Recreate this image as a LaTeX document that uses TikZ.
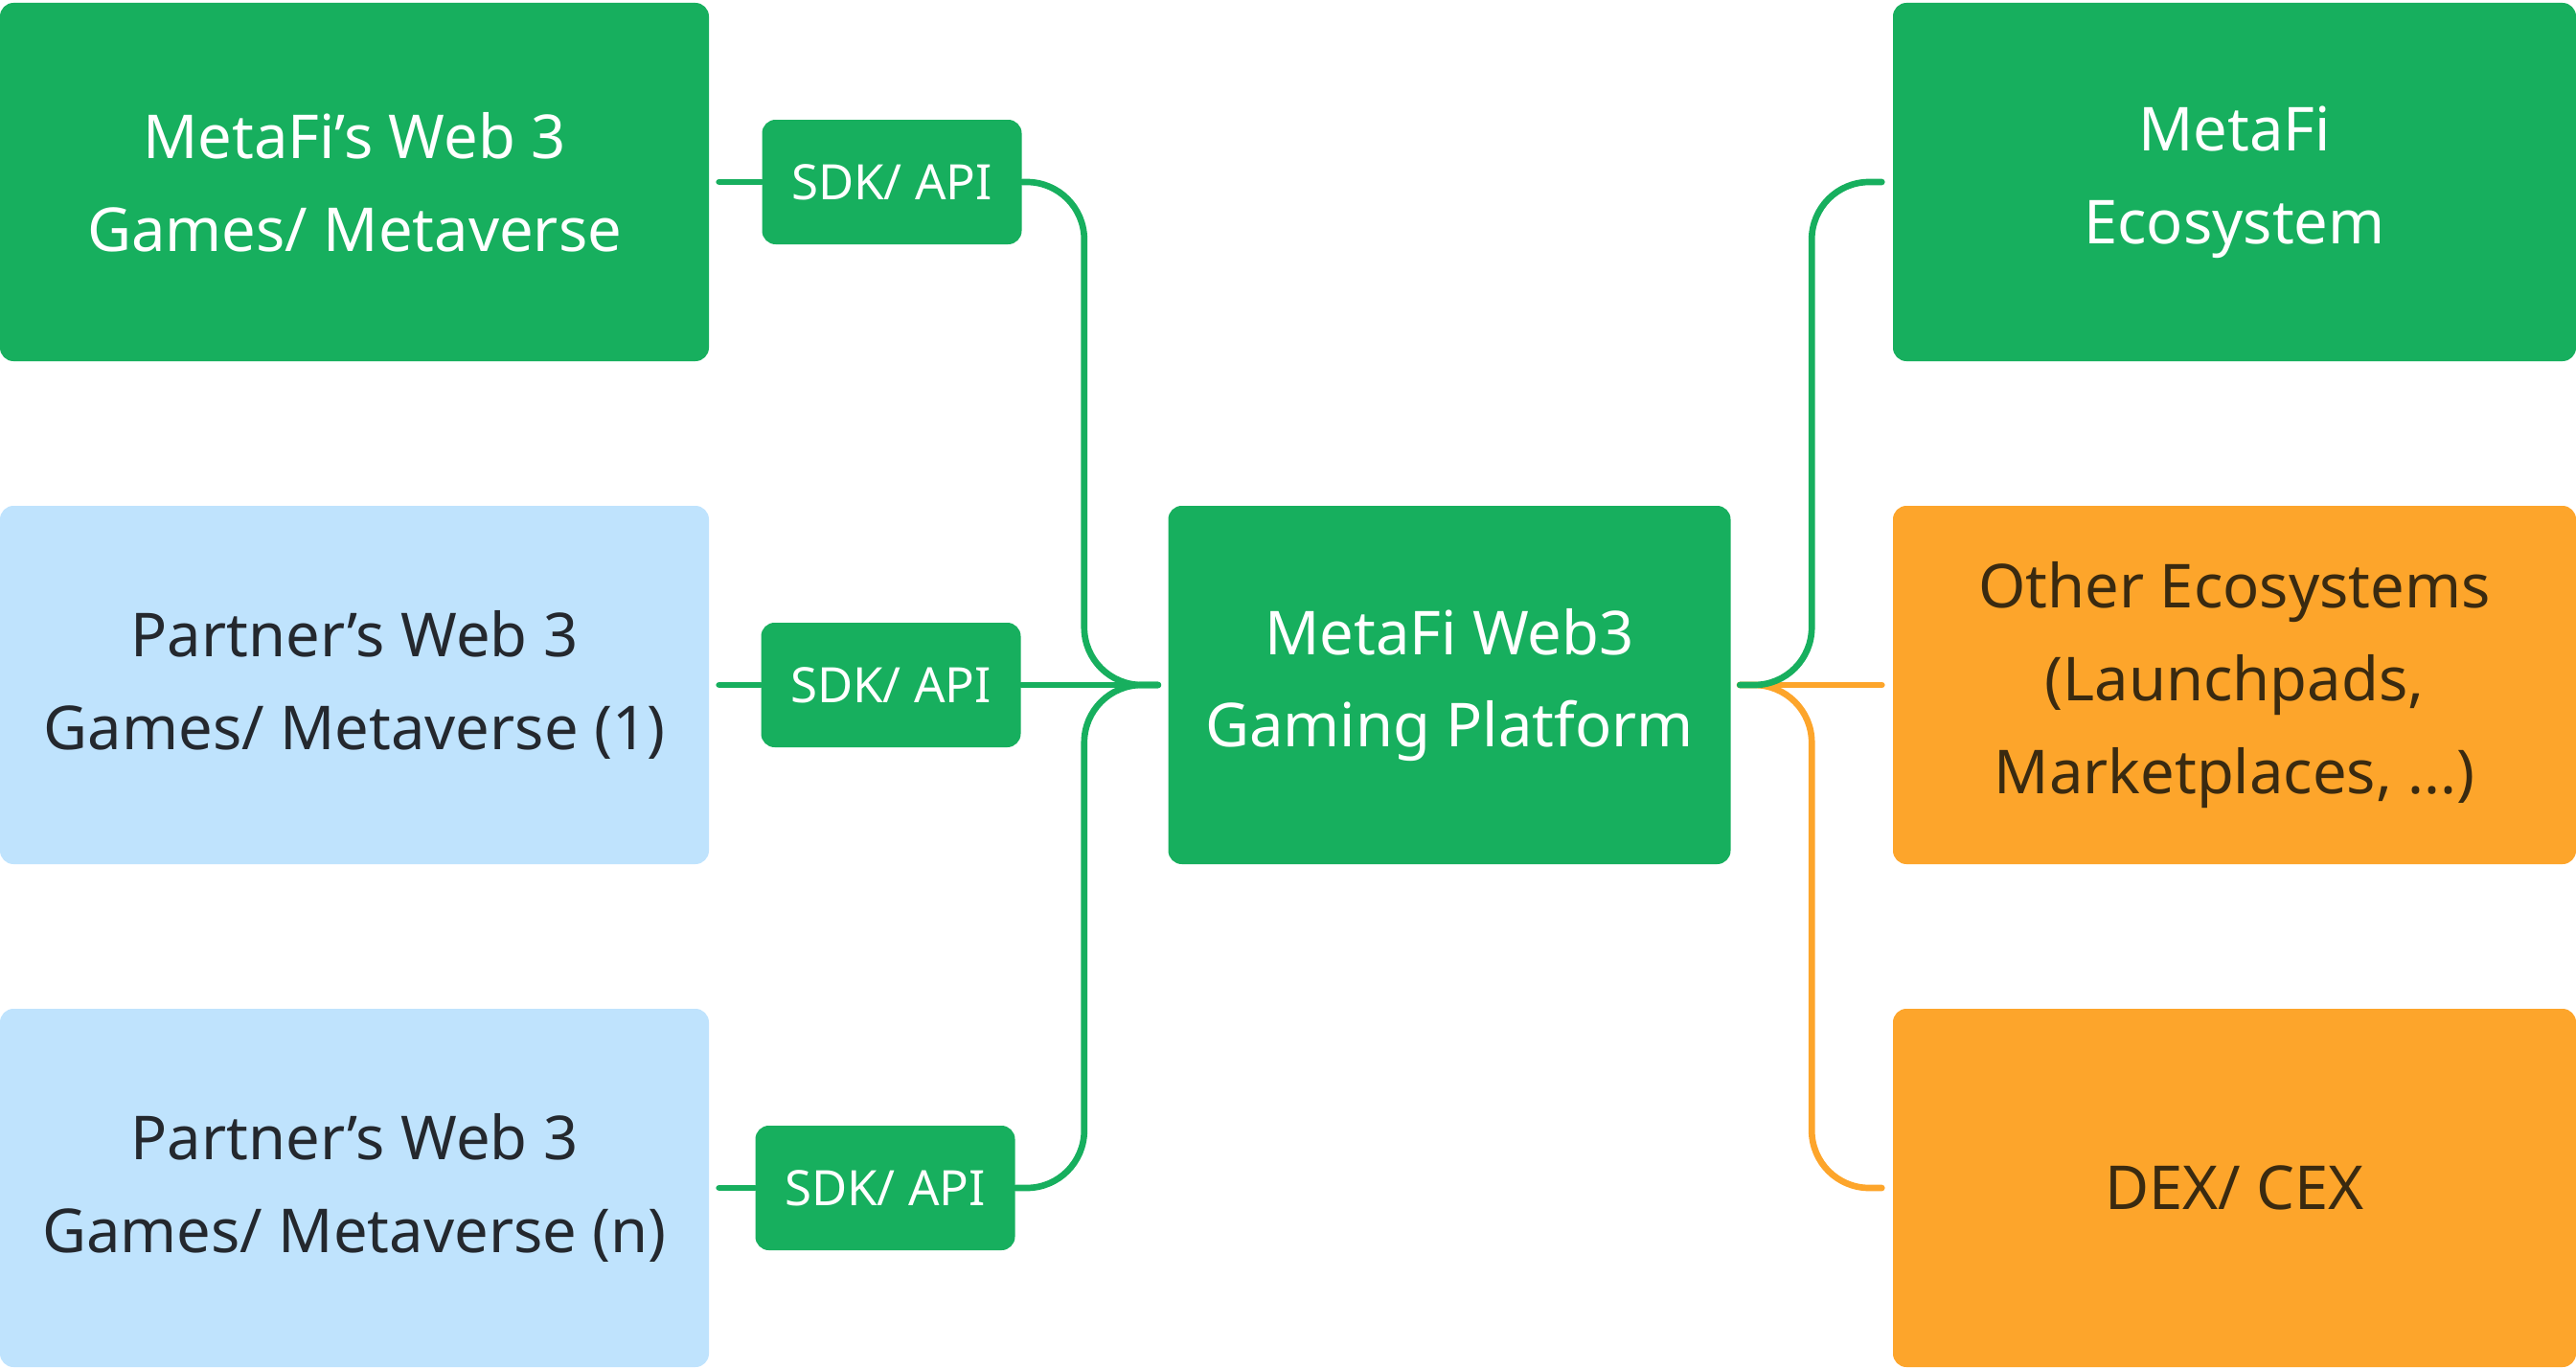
\documentclass[tikz,border=0pt]{standalone}
\usepackage{fontspec}
\setmainfont{Noto Sans}
\usetikzlibrary{positioning}
\definecolor{mfgreen}{HTML}{17AF5E}
\definecolor{mfblue}{HTML}{BFE3FD}
\definecolor{mforange}{HTML}{FDA52B}
\definecolor{mfdark}{HTML}{24282E}
\definecolor{mfbrown}{HTML}{3A2A10}
\tikzstyle{game} = [rectangle, rounded corners=4pt, minimum width=7.4cm, minimum height=3.74cm, align=center, fill=mfgreen, text=white, font=\fontsize{18}{27.5}\selectfont]
\tikzstyle{partner} = [game, fill=mfblue, text=mfdark]
\tikzstyle{eco} = [game, minimum width=7.13cm]
\tikzstyle{ext} = [eco, fill=mforange, text=mfbrown]
\tikzstyle{sdk} = [rectangle, rounded corners=4pt, minimum width=2.71cm, minimum height=1.3cm, fill=mfgreen, text=white, font=\fontsize{14.5}{17}\selectfont]
\tikzstyle{link} = [line width=1.9pt, line cap=round, draw=mfgreen]
\tikzstyle{extlink} = [link, draw=mforange]

\begin{document}
\begin{tikzpicture}
	\useasboundingbox (0,0) rectangle (26.89,-14.29);
	% games on the left
	\node (gameA) [game] at (3.70,-1.90) {MetaFi’s Web 3\\Games/ Metaverse};
	\node (gameB) [partner] at (3.70,-7.15) {Partner’s Web 3\\Games/ Metaverse (1)};
	\node (gameN) [partner] at (3.70,-12.40) {Partner’s Web 3\\Games/ Metaverse (n)};
	\node (sdkA) [sdk] at (9.31,-1.90) {SDK/ API};
	\node (sdkB) [sdk] at (9.30,-7.15) {SDK/ API};
	\node (sdkN) [sdk] at (9.24,-12.40) {SDK/ API};
	% platform
	\node (hub) [game, minimum width=5.87cm] at (15.13,-7.15) {MetaFi Web3\\Gaming Platform};
	% ecosystems on the right
	\node (meco) [eco] at (23.325,-1.90) {MetaFi\\Ecosystem};
	\node (other) [ext] at (23.325,-7.15) {Other Ecosystems\\(Launchpads,\\Marketplaces, ...)};
	\node (dex) [ext] at (23.325,-12.40) {DEX/ CEX};
	\coordinate (hubL) at ([xshift=-0.1cm]hub.west);
	\coordinate (hubR) at ([xshift=0.09cm]hub.east);
	\coordinate (busL) at ([xshift=-0.77cm]hubL);
	\coordinate (busR) at ([xshift=0.75cm]hubR);
	\coordinate (mecoIn) at ([xshift=-0.11cm]meco.west);
	\coordinate (otherIn) at ([xshift=-0.11cm]other.west);
	\coordinate (dexIn) at ([xshift=-0.11cm]dex.west);
	\draw [link, shorten <=0.1cm] (gameA) -- (sdkA);
	\draw [link, shorten <=0.1cm] (gameB) -- (sdkB);
	\draw [link, shorten <=0.1cm] (gameN) -- (sdkN);
	\draw [link, rounded corners=0.6cm] (sdkA) -| (busL) -- (hubL);
	\draw [link] (sdkB) -- (hubL);
	\draw [link, rounded corners=0.6cm] (sdkN) -| (busL) -- (hubL);
	\draw [extlink] (hubR) -- (otherIn);
	\draw [extlink, rounded corners=0.6cm] (hubR) -| (busR |- dex.west) -- (dexIn);
	\draw [link, rounded corners=0.6cm] (hubR) -| (busR |- meco.west) -- (mecoIn);
\end{tikzpicture}
\end{document}
